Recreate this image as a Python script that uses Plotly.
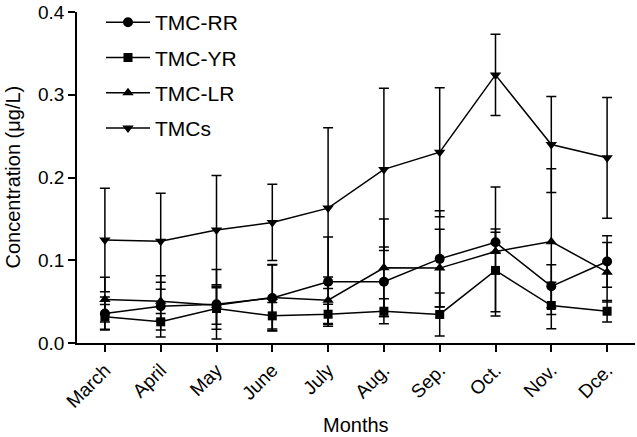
import plotly.graph_objects as go

months = ["March", "April", "May", "June", "July", "Aug.", "Sep.", "Oct.", "Nov.", "Dce."]

rr = [0.0357, 0.0444, 0.0468, 0.0544, 0.0741, 0.0741, 0.1017, 0.1217, 0.0685, 0.0985]
rr_err = [0.020, 0.037, 0.042, 0.040, 0.054, 0.042, 0.058, 0.012, 0.026, 0.031]

yr = [0.0316, 0.0256, 0.0417, 0.0328, 0.0348, 0.0384, 0.0345, 0.0877, 0.0453, 0.0384]
yr_err = [0.015, 0.010, 0.025, 0.016, 0.012, 0.015, 0.026, 0.050, 0.028, 0.013]

lr = [0.0525, 0.0505, 0.0456, 0.0550, 0.0517, 0.0909, 0.0905, 0.1105, 0.1225, 0.0856]
lr_err = [0.027, 0.023, 0.023, 0.040, 0.028, 0.059, 0.047, 0.078, 0.088, 0.036]

tmcs = [0.1245, 0.1229, 0.1365, 0.1457, 0.1630, 0.2098, 0.2306, 0.3240, 0.2399, 0.2238]
tmcs_err = [0.0625, 0.058, 0.066, 0.046, 0.097, 0.098, 0.078, 0.049, 0.058, 0.073]

series = [
    ("TMC-RR", rr, rr_err, "circle", 10),
    ("TMC-YR", yr, yr_err, "square", 9),
    ("TMC-LR", lr, lr_err, "triangle-up", 10),
    ("TMCs", tmcs, tmcs_err, "triangle-down", 10),
]

fig = go.Figure()
for i, (name, vals, errs, sym, sz) in enumerate(series):
    fig.add_trace(go.Scatter(
        x=list(range(len(months))), y=vals, name=name, mode="lines+markers",
        line=dict(color="black", width=1.5),
        marker=dict(symbol=sym, size=sz, color="black"),
        error_y=dict(type="data", array=errs, visible=True, color="black",
                     thickness=1.5, width=5),
        legendgroup=name,
        cliponaxis=False,
    ))

font = "Liberation Sans, Arial, sans-serif"
fig.update_layout(
    width=637, height=437,
    margin=dict(l=77, r=2, t=10, b=94),
    plot_bgcolor="white", paper_bgcolor="white",
    font=dict(family=font, color="black", size=19),
    showlegend=True,
    legend=dict(x=0.043, y=1.03, xanchor="left", yanchor="top",
                font=dict(size=21, family=font), tracegroupgap=5,
                bgcolor="rgba(0,0,0,0)", itemwidth=44),
    xaxis=dict(
        range=[-0.5, 9.5], tickmode="array", tickvals=list(range(len(months))),
        ticktext=months, tickangle=-45, showline=True, linecolor="black",
        linewidth=1.5, ticks="outside", ticklen=7, tickwidth=1.5, tickcolor="black",
        showgrid=False, zeroline=False,
    ),
    yaxis=dict(
        range=[0, 0.4], tickvals=[0, 0.1, 0.2, 0.3, 0.4], tickformat=".1f",
        showline=True, linecolor="black", linewidth=1.5, ticks="outside",
        ticklen=7, tickwidth=1.5, tickcolor="black", showgrid=False, zeroline=False,
    ),
    annotations=[
        dict(text="Concentration (μg/L)", textangle=-90, xref="paper", yref="paper",
             x=0, y=0.5, xanchor="center", yanchor="middle", xshift=-65,
             showarrow=False, font=dict(size=20, family=font)),
        dict(text="Months", xref="paper", yref="paper", x=0.5, y=0,
             xanchor="center", yanchor="middle", yshift=-82,
             showarrow=False, font=dict(size=20, family=font)),
    ],
)

fig.write_html("out.html", config={"displayModeBar": False},
               post_script="document.body.style.margin='0';")
